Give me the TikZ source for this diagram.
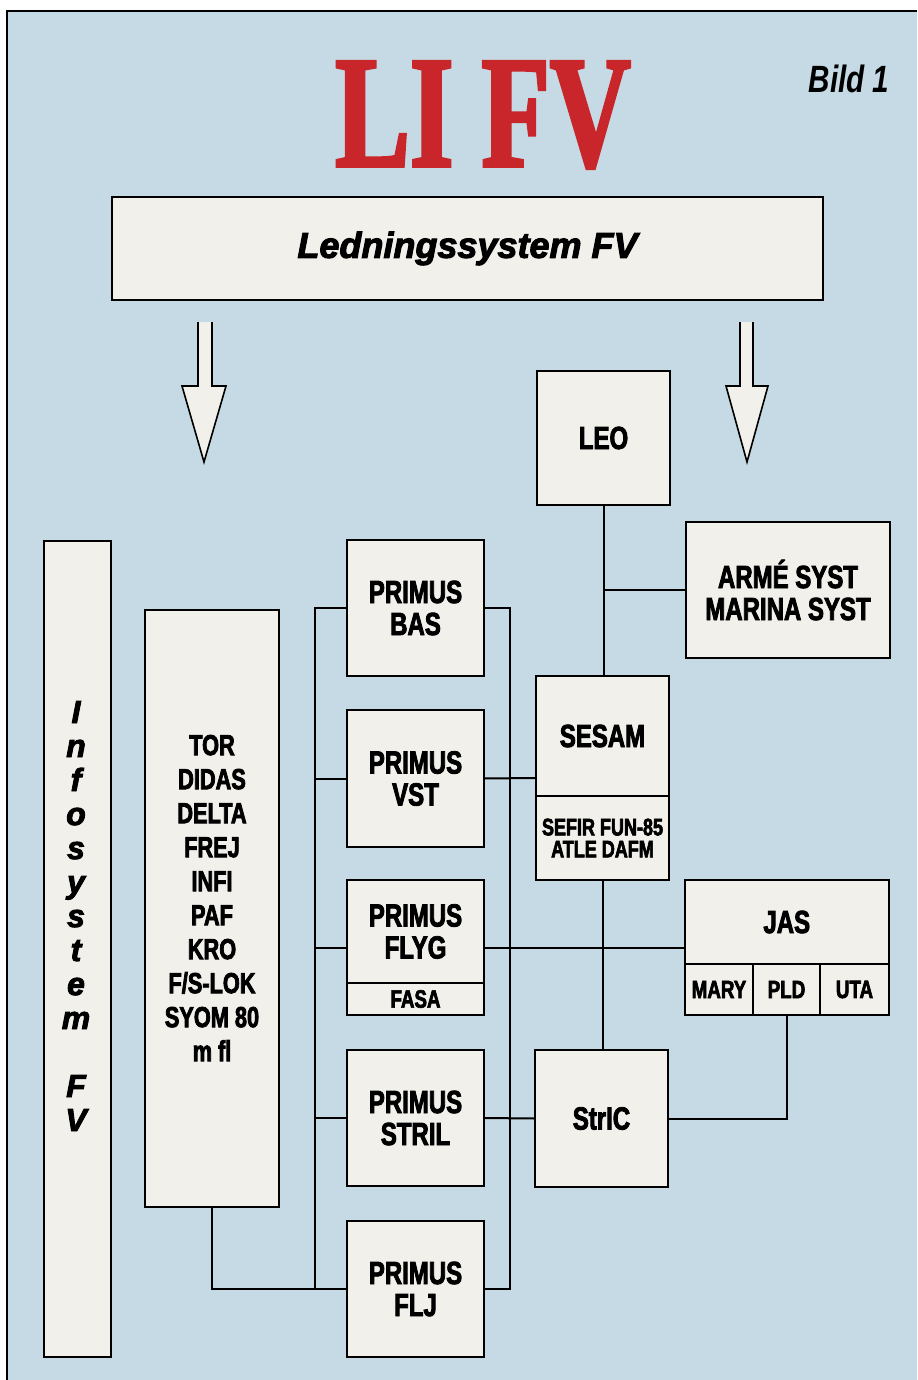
\documentclass[tikz,border=0pt]{standalone}
\usepackage{fontspec}
\setmainfont{Liberation Sans}
\newfontfamily\narrowfont[FakeStretch=0.75,FakeBold=2.6]{Liberation Sans}
\newfontfamily\heavyfont[FakeBold=2.8]{Liberation Sans}
\newfontfamily\titlefont[FakeStretch=0.7,FakeBold=2]{Liberation Serif}
\newfontfamily\bildfont[FakeStretch=0.78]{Liberation Sans}
\usetikzlibrary{calc}
\definecolor{bgblue}{RGB}{197,218,228}
\definecolor{boxfill}{RGB}{241,240,235}
\definecolor{titlered}{RGB}{200,38,42}

\begin{document}
\begin{tikzpicture}[x=0.5pt,y=0.5pt]
	\tikzstyle{every node}+=[inner sep=0pt]
	\tikzstyle{box}=[draw=black, fill=boxfill, line width=1pt, outer sep=0pt, align=center, font=\narrowfont\bfseries\fontsize{16}{16}\selectfont]
	\tikzstyle{cell}=[box, font=\narrowfont\bfseries\fontsize{12.5}{11}\selectfont]
	\tikzstyle{label}=[align=center, font=\narrowfont\bfseries\fontsize{16}{16}\selectfont]
	\tikzstyle{conn}=[draw=black, line width=1pt]
	\tikzstyle{hollow}=[draw=black, fill=boxfill, line width=0.8pt]
	\useasboundingbox (0,0) rectangle (917,-1380);
	\fill [bgblue] (7,-11) rectangle (917,-1380);
	\draw [line width=1pt] (7,-1380) -- (7,-11) -- (917,-11);
	\node [text=titlered, font=\titlefont\bfseries\fontsize{80}{80}\selectfont] (title) at (483,-115) {LI FV};
	\node [font=\bildfont\bfseries\itshape\fontsize{19}{19}\selectfont] (bild) at (849,-79) {Bild 1};
	\node [box, minimum width=355.5pt, minimum height=51.5pt, font=\heavyfont\bfseries\itshape\fontsize{18}{18}\selectfont] (led) at (467.5,-248.5) {Ledningssystem FV};
	\draw [hollow] (198,-322) -- (198,-386) -- (182,-386) -- (204,-462) -- (226,-386) -- (212,-386) -- (212,-322);
	\draw [hollow] (740,-322) -- (740,-386) -- (726,-386) -- (747,-462) -- (768,-386) -- (753,-386) -- (753,-322);
	\node [box, minimum width=33.5pt, minimum height=408pt] (info) at (77.5,-949) {};
	\node [align=center, font=\heavyfont\bfseries\itshape\fontsize{16}{17}\selectfont] (infotext) at (76,-916) {I\\n\\f\\o\\s\\y\\s\\t\\e\\m\\[17pt]F\\V};
	\node [box, minimum width=67pt, minimum height=298.5pt] (tor) at (212,-908.5) {};
	\node [label, font=\narrowfont\bfseries\fontsize{14.5}{17}\selectfont] (tortext) at (212,-898) {TOR\\DIDAS\\DELTA\\FREJ\\INFI\\PAF\\KRO\\F/S-LOK\\SYOM 80\\m fl};
	\node [box, minimum width=68.5pt, minimum height=68pt] (bas) at (415.5,-608) {PRIMUS\\BAS};
	\node [box, minimum width=68.5pt, minimum height=68.5pt] (vst) at (415.5,-778.5) {PRIMUS\\VST};
	\node [box, minimum width=68.5pt, minimum height=67.5pt] (flyg) at (415.5,-947.5) {};
	\node [cell, anchor=south, minimum width=68.5pt, minimum height=16pt] (fasa) at (flyg.south) {FASA};
	\node [label] (flygtext) at ($(flyg.north)!0.5!(fasa.north)$) {PRIMUS\\FLYG};
	\node [box, minimum width=68.5pt, minimum height=68pt] (stril) at (415.5,-1118) {PRIMUS\\STRIL};
	\node [box, minimum width=68.5pt, minimum height=68pt] (flj) at (415.5,-1289) {PRIMUS\\FLJ};
	\node [box, minimum width=66.5pt, minimum height=67pt] (leo) at (603.5,-438) {LEO};
	\node [box, minimum width=102pt, minimum height=68pt] (arme) at (788,-590) {ARMÉ SYST\\MARINA SYST};
	\node [box, minimum width=66.5pt, minimum height=102pt] (sesam) at (602.5,-778) {};
	\node [cell, anchor=south, minimum width=66.5pt, minimum height=42pt, font=\narrowfont\bfseries\fontsize{12}{11}\selectfont] (sefir) at (sesam.south) {SEFIR FUN-85\\ATLE DAFM};
	\node [label] (sesamtext) at ($(sesam.north)!0.5!(sefir.north)$) {SESAM};
	\node [box, minimum width=102pt, minimum height=67.5pt] (jas) at (787,-947.5) {};
	\node [cell, anchor=south west, minimum width=34pt, minimum height=25.5pt] (mary) at (jas.south west) {MARY};
	\node [cell, anchor=south west, minimum width=33.5pt, minimum height=25.5pt] (pld) at (mary.south east) {PLD};
	\node [cell, anchor=south west, minimum width=34.5pt, minimum height=25.5pt] (uta) at (pld.south east) {UTA};
	\node [label] (jastext) at ($(jas.north)!0.5!(pld.north)$) {JAS};
	\node [box, minimum width=66.5pt, minimum height=68.5pt] (stric) at (601.5,-1118.5) {StrIC};
	\coordinate (lbus) at (315,-600);
	\coordinate (rbus) at (510,-600);
	\draw [conn] (leo.south) -- (leo.south |- sesam.north);
	\draw [conn] (arme.west) -- (arme.west -| leo.south);
	\draw [conn] (sesam.south) -- (sesam.south |- stric.north);
	\draw [conn] (pld.south) |- (stric.east);
	\draw [conn] (vst.east) -- (sesam.west);
	\draw [conn] (flyg.east) -- (jas.west);
	\draw [conn] (stril.east) -- (stric.west);
	\draw [conn] (bas.west) -- (bas.west -| lbus) -- (flj.west -| lbus);
	\foreach \n in {vst,flyg,stril}
		\draw [conn] (\n.west) -- (\n.west -| lbus);
	\draw [conn] (bas.east) -| (rbus |- flj.east) -- (flj.east);
	\draw [conn] (tor.south) |- (flj.west);
\end{tikzpicture}
\end{document}
